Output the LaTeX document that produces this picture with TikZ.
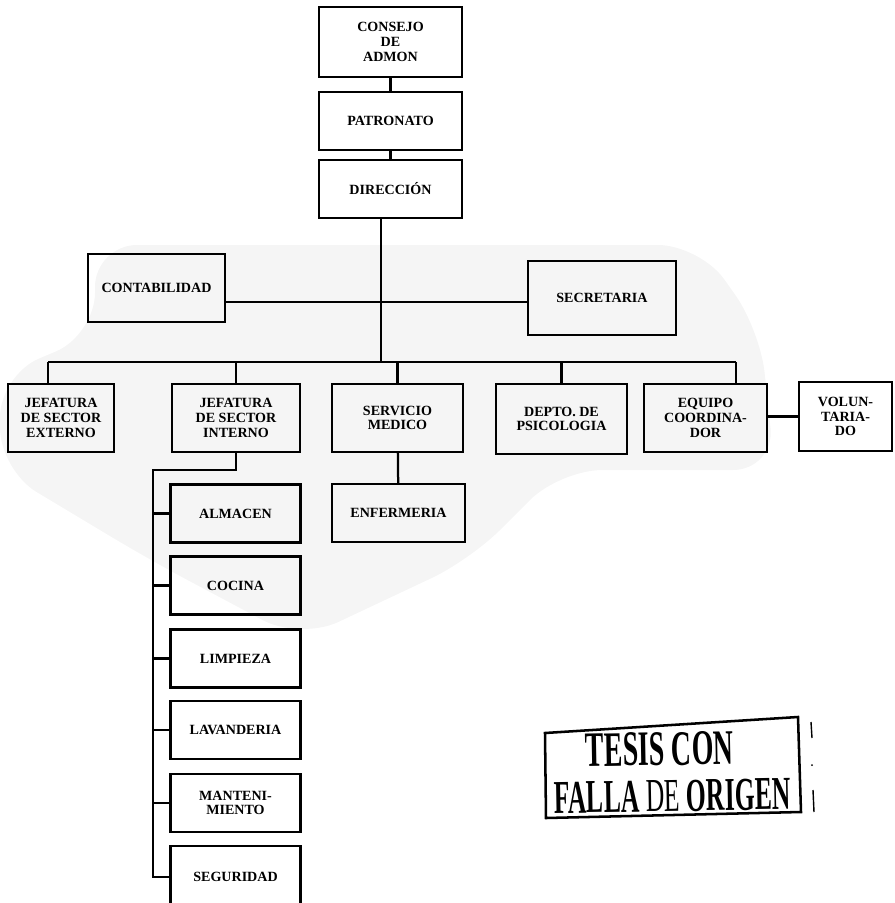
\documentclass[tikz,border=0pt]{standalone}
\usepackage{fontspec}
\setmainfont{Liberation Serif}
\usetikzlibrary{calc}
\tikzset{
    orgbox/.style={draw, line width=1.6pt, align=center, inner sep=2pt,
        font=\bfseries\fontsize{10}{10.5}\selectfont},
    link/.style={line width=1.6pt},
    subbox/.style={orgbox, minimum width=3.25cm, minimum height=1.45cm}
}
\begin{document}
\begin{tikzpicture}[x=0.025cm, y=-0.025cm]
    \useasboundingbox (0,0) rectangle (895,903);
    \fill[black!4, rounded corners=30] (95,245) -- (700,245) -- (760,330) -- (775,470) -- (560,470) -- (470,560) -- (300,640) -- (150,560) -- (0,470) -- (0,375) -- (95,335) -- cycle;

    \node[orgbox, minimum width=3.575cm, minimum height=1.75cm] (consejo) at (390.5,42) {CONSEJO\\DE\\ADMON};
    \node[orgbox, minimum width=3.575cm, minimum height=1.45cm] (patronato) at (390.5,121) {PATRONATO};
    \node[orgbox, minimum width=3.575cm, minimum height=1.45cm] (direccion) at (390.5,189) {DIRECCIÓN};
    \node[orgbox, minimum width=3.425cm, minimum height=1.7cm] (contabilidad) at (156.5,288) {CONTABILIDAD};
    \node[orgbox, minimum width=3.7cm, minimum height=1.85cm] (secretaria) at (602,298) {SECRETARIA};

    \node[orgbox, minimum width=2.65cm, minimum height=1.7cm] (externo) at (61,418) {JEFATURA\\DE SECTOR\\EXTERNO};
    \node[orgbox, minimum width=3.2cm, minimum height=1.7cm] (interno) at (236,418) {JEFATURA\\DE SECTOR\\INTERNO};
    \node[orgbox, minimum width=3.275cm, minimum height=1.7cm] (servicio) at (397.5,418) {SERVICIO\\MEDICO};
    \node[orgbox, minimum width=3.275cm, minimum height=1.75cm] (depto) at (561.5,419) {DEPTO. DE\\PSICOLOGIA};
    \node[orgbox, minimum width=3.075cm, minimum height=1.7cm] (equipo) at (705.5,418) {EQUIPO\\COORDINA-\\DOR};
    \node[orgbox, minimum width=2.325cm, minimum height=1.725cm] (voluntariado) at (845.5,416.5) {VOLUN-\\TARIA-\\DO};

    \node[subbox] (almacen) at (235.5,513.5) {ALMACEN};
    \node[subbox] (cocina) at (235.5,585.5) {COCINA};
    \node[subbox] (limpieza) at (235.5,658.5) {LIMPIEZA};
    \node[subbox] (lavanderia) at (235.5,730) {LAVANDERIA};
    \node[subbox] (mantenimiento) at (235.5,803) {MANTENI-\\MIENTO};
    \node[subbox, minimum height=1.55cm] (seguridad) at (235.5,877) {SEGURIDAD};
    \node[subbox, minimum width=3.325cm] (enfermeria) at (398.5,513) {ENFERMERIA};

    \coordinate (mid) at (381,302);
    \coordinate (hub) at (381,362);
    \coordinate (busL) at (48,362);
    \coordinate (busR) at (736,362);
    \coordinate (elbow) at (153,470);

    \draw[link] (consejo) -- (patronato);
    \draw[link] (patronato) -- (direccion);
    \draw[link] (direccion.south -| hub) -- (hub);
    \draw[link] (contabilidad.east |- mid) -- (secretaria.west |- mid);
    \draw[link] (busL) -- (busR);
    \draw[link] (busL) -- (busL |- externo.north);
    \draw[link] (busR) -- (busR |- equipo.north);
    \foreach \n in {interno, servicio, depto}
        \draw[link] (hub -| \n.north) -- (\n.north);
    \draw[link] (equipo.east |- voluntariado.west) -- (voluntariado.west);
    \draw[link] (servicio) -- (enfermeria);
    \draw[link] (interno.south) -- (interno.south |- elbow) -- (elbow) -- (elbow |- seguridad.west) -- (seguridad.west);
    \foreach \n in {almacen, cocina, limpieza, lavanderia, mantenimiento}
        \draw[link] (elbow |- \n.west) -- (\n.west);

    \draw[line width=1.8pt] (545,733) -- (798,717) -- (801,812) -- (546,818) -- cycle;
    \node[rotate=1, inner sep=0pt, align=center] (stamp) at (672,772) {\resizebox{3.7cm}{0.82cm}{\bfseries TESIS CON}\hspace*{0.6cm}\\[0.33cm]\resizebox{5.9cm}{0.78cm}{\bfseries FALLA \textmd{DE} ORIGEN}};
    \draw[line width=1pt] (811,722) -- (812,738);
    \fill (812,765) circle (1);
    \draw[line width=1pt] (813,790) -- (814,812);
\end{tikzpicture}
\end{document}
